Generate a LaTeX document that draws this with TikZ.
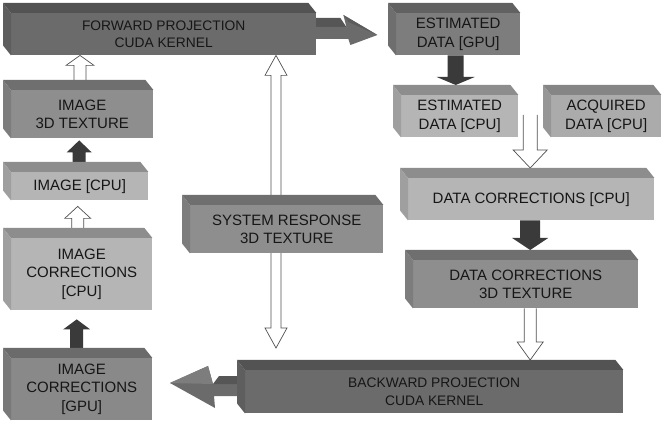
\documentclass[tikz,border=0pt]{standalone}
\usepackage{fontspec}
\setmainfont{Liberation Sans}
\usetikzlibrary{calc}
\definecolor{txt}{HTML}{161616}
\definecolor{cdark}{HTML}{6B6B6B}
\definecolor{cmid}{HTML}{7D7D7D}
\definecolor{cmed}{HTML}{8E8E8E}
\definecolor{cicg}{HTML}{898989}
\definecolor{clight}{HTML}{B5B5B5}
\definecolor{clight2}{HTML}{ABABAB}
\definecolor{carrow}{HTML}{3A3A3A}
\definecolor{cline}{HTML}{505050}
\pgfdeclarelayer{bgwhite}
\pgfdeclarelayer{arrows}
\pgfsetlayers{bgwhite,arrows,main}
\tikzset{
  face/.style={anchor=north west, inner sep=0pt, text=txt, align=center,
    font=\fontsize{15}{18.5}\selectfont},
  smallfont/.style={font=\fontsize{13.8}{17.5}\selectfont},
  warrow/.style={fill=white, draw=cline, line width=0.7pt},
  barrow/.style={fill=carrow},
}
\newcommand\boxfaces[2]{%
  \fill[#2!78!black] ($(#1.north west)+(-8,-10)$) -- ($(#1.north east)+(-8,-10)$) -- (#1.north east) -- (#1.north west) -- cycle;
  \fill[#2!88!black] ($(#1.north west)+(-8,-10)$) -- (#1.north west) -- (#1.south west) -- ($(#1.south west)+(-8,-10)$) -- cycle;
}
\newcommand\mkbox[8]{%
  \node[face,#7,fill=#6,minimum width=#4pt-#2pt,minimum height=#5pt-#3pt] (#1) at (#2,#3) {#8};
  \boxfaces{#1}{#6}
}
% style, tail, tip, shaft half width, head half width, head length, sign (+1 up, -1 down)
\newcommand\varr[7]{%
  \path[#1] let \p1=(#2), \p2=(#3), \n1={\y2-(#7)*#6pt} in
   ({\x2-#4pt},\y1) -- ({\x2-#4pt},\n1) -- ({\x2-#5pt},\n1) -- (\x2,\y2) -- ({\x2+#5pt},\n1) -- ({\x2+#4pt},\n1) -- ({\x2+#4pt},\y1);
}
\begin{document}
\begin{tikzpicture}[x=1pt,y=-1pt]
\useasboundingbox (0,0) rectangle (662,422);
\begin{pgfonlayer}{bgwhite}
\fill[white] (0,0) rectangle (662,422);
\end{pgfonlayer}
% boxes
\mkbox{fwd}{11}{13}{316}{55}{cdark}{smallfont}{FORWARD PROJECTION\\CUDA KERNEL}
\mkbox{estg}{396}{13}{520}{55}{cmid}{}{ESTIMATED\\DATA [GPU]}
\mkbox{estc}{401}{95}{518}{137}{clight}{}{ESTIMATED\\DATA [CPU]}
\mkbox{acq}{551}{95}{661}{137}{clight2}{}{ACQUIRED\\DATA [CPU]}
\mkbox{dcc}{408}{178}{654}{220}{clight}{}{DATA CORRECTIONS [CPU]}
\mkbox{dctex}{413}{260}{638}{308}{cmed}{}{DATA CORRECTIONS\\3D TEXTURE}
\mkbox{bwd}{245}{370}{623}{413}{cdark}{smallfont}{BACKWARD PROJECTION\\CUDA KERNEL}
\mkbox{icg}{11}{358}{152}{420}{cicg}{}{IMAGE\\CORRECTIONS\\{}[GPU]}
\mkbox{icc}{11}{238}{152}{310}{clight}{}{IMAGE\\CORRECTIONS\\{}[CPU]}
\mkbox{imgc}{11}{172}{148}{200}{clight}{}{IMAGE [CPU]}
\mkbox{imgtex}{11}{90}{153}{138}{cmed}{}{IMAGE\\3D TEXTURE}
\mkbox{sys}{190}{205}{383}{253}{cmed}{}{SYSTEM RESPONSE\\3D TEXTURE}
\coordinate (wtail) at (530,115);
\begin{pgfonlayer}{arrows}
% left column
\varr{barrow}{$(icg.north)+(-5,-10)$}{$(icc.south)+(-5,9)$}{6.5}{13.5}{10}{1}
\varr{warrow}{$(icc.north)+(-2,-10)$}{$(imgc.south)+(-2,6)$}{6}{13}{12}{1}
\varr{barrow}{$(imgc.north)+(-3,-10)$}{$(imgtex.south)+(-3,2)$}{6.5}{12.5}{12}{1}
\varr{warrow}{$(imgtex.north)+(-2,-10)$}{$(fwd.south west)+(69,0)$}{6}{14}{10}{1}
% right column
\varr{barrow}{$(estg.south)+(-3,0)$}{$(estc.north)+(-4,-10)$}{8}{19}{8}{-1}
\varr{warrow}{wtail}{$(dcc.north)+(-1,-10)$}{7}{17}{18}{-1}
\varr{barrow}{$(dcc.south)+(-1,0)$}{$(dctex.north)+(4.5,-10)$}{10}{18}{12}{-1}
\varr{warrow}{$(dctex.south)+(4.5,0)$}{$(bwd.north)+(96,-10)$}{6}{13}{18}{-1}
% double arrow
\path[warrow] let \p1=($(fwd.south west)+(265,0)$), \p2=($(bwd.north west)+(31,-22)$) in
  (\x1,\y1) -- ({\x1+11pt},{\y1-20pt}) -- ({\x1+5pt},{\y1-20pt}) -- ({\x1+5pt},{\y2+20pt}) -- ({\x1+11pt},{\y2+20pt}) -- (\x1,\y2)
  -- ({\x1-11pt},{\y2+20pt}) -- ({\x1-5pt},{\y2+20pt}) -- ({\x1-5pt},{\y1-20pt}) -- ({\x1-11pt},{\y1-20pt}) -- cycle;
% 3D arrow forward -> estimated GPU
\begin{scope}[shift={(fwd.north east)}]
  \fill[cdark!80!black] (-2,5) -- (24,5) -- (30,14) -- (-2,14) -- cycle;
  \fill[cdark] (-2,14) -- (30,14) -- (27,2) -- (61,22) -- (34,32) -- (32,26) -- (-2,26) -- cycle;
  \fill[cdark!110!white] (27,2) -- (61,22) -- (32,9) -- cycle;
\end{scope}
% 3D arrow backward -> image corrections GPU
\begin{scope}[shift={(bwd.north west)}]
  \fill[cdark] (2,14) -- (-32,14) -- (-37,-4) -- (-75,13) -- (-30,38) -- (-31,26) -- (2,26) -- cycle;
  \fill[cdark!80!black] (-32,14) -- (-26,6) -- (2,6) -- (2,14) -- cycle;
  \fill[cdark!88!white] (-75,13) -- (-37,-4) -- (-32,14) -- cycle;
\end{scope}
\end{pgfonlayer}
\end{tikzpicture}
\end{document}
